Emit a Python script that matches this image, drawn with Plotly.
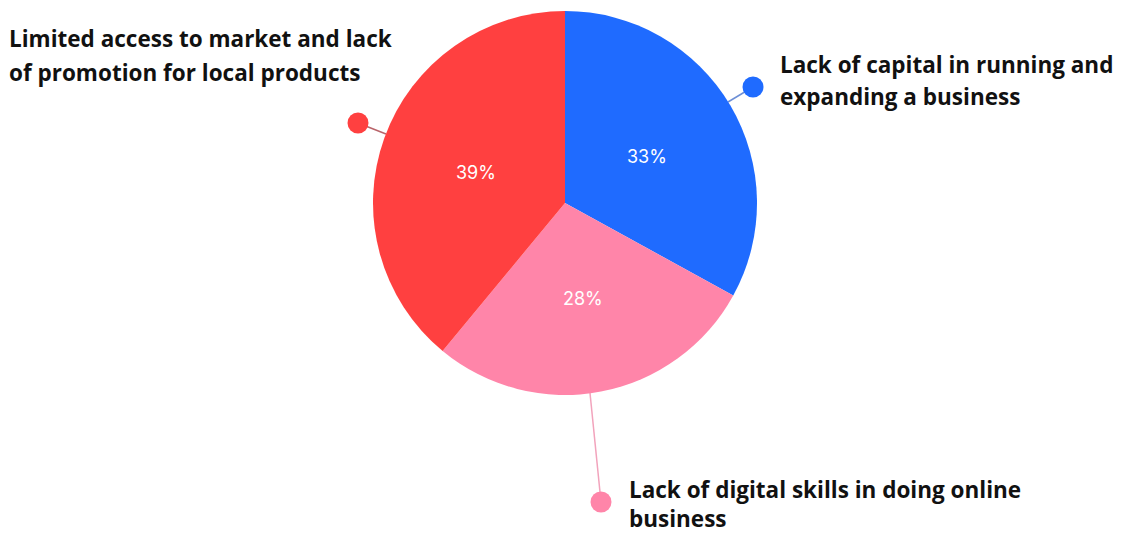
import math
import plotly.graph_objects as go

# ---- data ----
categories = [
    "Lack of capital in running and expanding a business",
    "Lack of digital skills in doing online business",
    "Limited access to market and lack of promotion for local products",
]
values = [33, 28, 39]
colors = ["#1F6BFF", "#FF85A9", "#FF4040"]
label_lines = [
    ["Lack of capital in running and", "expanding a business"],
    ["Lack of digital skills in doing online", "business"],
    ["Limited access to market and lack", "of promotion for local products"],
]

# ---- layout (pixel space) ----
W, H = 1121, 535
cx, cy, R = 565, 203, 192
leader = [  # (edge point, dot point) per slice
    ((728, 102), (753, 87)),
    ((590, 393), (601, 502)),
    ((386, 134), (358, 123)),
]
line_colors = ["#6D8FD6", "#F2A3BC", "#B9646A"]
label_pos = [  # (x left, y of each line)
    (779, [64, 96]),
    (628, None),
    (8, [38, 72]),
]

fig = go.Figure()
fig.add_trace(go.Pie(
    labels=categories, values=values, sort=False, direction="clockwise",
    rotation=0, marker=dict(colors=colors, line=dict(width=0)),
    textinfo="none",
    domain=dict(x=[(cx - R) / W, (cx + R) / W], y=[(H - cy - R) / H, (H - cy + R) / H]),
    showlegend=False, hoverinfo="label+percent",
))
fig.add_trace(go.Scatter(x=[0], y=[0], mode="markers", marker=dict(opacity=0), showlegend=False, hoverinfo="skip"))

shapes = []
annotations = []
total = sum(values)
cum = 0
for i, v in enumerate(values):
    mid = (cum + v / 2) / total * 2 * math.pi
    cum += v
    rr = 0.495 * R
    annotations.append(dict(x=cx + rr * math.sin(mid), y=cy - rr * math.cos(mid) + 2, xref="x", yref="y",
                            text=f"{round(v / total * 100)}%", showarrow=False,
                            font=dict(family="Inter", size=18, color="white")))

lab_font = dict(family="Open Sans", size=22.5, color="#111111", weight="bold")
for i, ((ex, ey), (dx, dy)) in enumerate(leader):
    shapes.append(dict(type="line", x0=ex, y0=ey, x1=dx, y1=dy, xref="x", yref="y",
                       line=dict(color=line_colors[i], width=1.5), layer="below"))
    r = 10.5
    shapes.append(dict(type="circle", x0=dx - r, y0=dy - r, x1=dx + r, y1=dy + r, xref="x", yref="y",
                       fillcolor=colors[i], line=dict(width=0)))
    lx, ys = label_pos[i]
    if ys is None:
        annotations.append(dict(x=lx, y=H, xref="x", yref="y", text="<br>".join(label_lines[i]),
                                showarrow=False, xanchor="left", yanchor="bottom", align="left",
                                borderpad=0, font=lab_font))
    else:
        for txt, yy in zip(label_lines[i], ys):
            annotations.append(dict(x=lx, y=yy, xref="x", yref="y", text=txt, showarrow=False,
                                    xanchor="left", yanchor="middle", borderpad=0, font=lab_font))

fig.update_layout(
    width=W, height=H, margin=dict(l=0, r=0, t=0, b=0),
    paper_bgcolor="white", plot_bgcolor="rgba(0,0,0,0)",
    xaxis=dict(range=[0, W], visible=False, fixedrange=True),
    yaxis=dict(range=[H, 0], visible=False, fixedrange=True),
    shapes=shapes, annotations=annotations,
)
fig.write_html("out.html")
